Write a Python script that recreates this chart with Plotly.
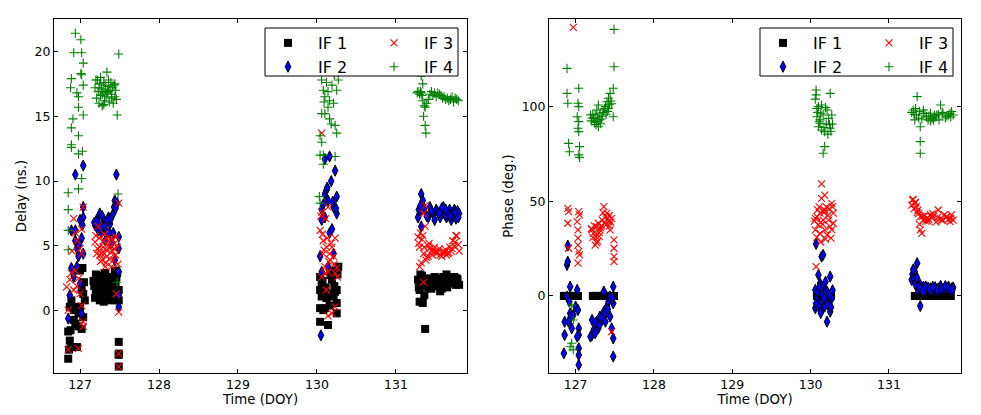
import plotly.graph_objects as go

# ---------------- Delay panel (left) ----------------
d_if1_t = [126.85, 126.85, 126.87, 126.89, 126.96, 126.92, 126.98, 127.00, 127.02, 127.04, 127.06, 127.04, 127.03, 127.00,
           127.02, 126.96, 126.92, 126.89, 126.87, 126.94, 126.98, 127.05, 126.86, 126.88,
           127.23, 127.21, 127.25, 127.30, 127.34, 127.34, 127.38, 127.42, 127.40, 127.30, 127.25, 127.44, 127.46, 127.49,
           127.42, 127.49, 127.18, 127.27, 127.32, 127.36, 127.40, 127.45, 127.49, 127.49, 127.49, 127.49,
           127.17, 127.19, 127.20, 127.22, 127.24, 127.26, 127.28, 127.29, 127.31, 127.33, 127.35, 127.37, 127.39, 127.41,
           127.43, 127.20, 127.26, 127.36, 127.47,
           130.04, 130.06, 130.04, 130.08, 130.06, 130.04, 130.10, 130.14, 130.21, 130.25, 130.25, 130.25, 130.27, 130.19,
           130.14, 130.04, 130.08, 130.21, 130.12, 130.17, 130.23, 130.07, 130.11, 130.16, 130.22, 130.26,
           131.28, 131.30, 131.30, 131.32, 131.33, 131.35, 131.37, 131.39, 131.41, 131.43, 131.45, 131.47, 131.49, 131.51,
           131.54, 131.56, 131.58, 131.60, 131.62, 131.64, 131.66, 131.68, 131.70, 131.72, 131.74, 131.76, 131.78, 131.80,
           131.34, 131.36, 131.29, 131.31, 131.44, 131.52, 131.57, 131.61, 131.65, 131.69, 131.73, 131.77]
d_if1_v = [-3.7, -1.6, -2.3, -2.8, -2.8, -0.7, -0.2, 0.3, -1.4, -0.5, 0.8, 1.3, 3.3, 3.1,
           1.6, 0.3, 0.05, 0.8, 0.3, -1.0, -1.2, 2.2, -3.0, -1.5,
           2.6, 1.3, 0.8, 1.85, 2.6, 1.1, 1.6, 2.4, 0.8, 0.7, 2.0, 3.1, 2.6, 1.6,
           0.95, 0.8, 1.9, 1.5, 2.9, 2.0, 1.2, 2.2, -2.4, -3.3, -4.3, -3.4,
           2.3, 1.0, 2.8, 1.9, 1.2, 2.7, 1.0, 2.3, 2.9, 1.8, 1.3, 2.6, 2.1, 1.6,
           1.9, 1.6, 2.2, 0.9, 2.9,
           2.6, 2.1, 1.6, 1.3, 1.1, 0.2, 0.2, 1.3, 1.1, 0.6, -0.2, 1.6, 3.4, 2.4,
           -1.1, -0.85, 0.05, 3.1, 0.98, 2.75, 1.47, 2.3, 1.8, 0.4, 1.9, 2.8,
           2.4, 1.6, 0.7, 2.2, 2.7, 1.9, -1.4, 2.3, 1.8, 2.5, 1.7, 2.0, 2.6, 1.9,
           2.2, 1.5, 1.7, 2.6, 2.1, 2.8, 2.3, 2.1, 2.5, 2.3, 2.6, 2.0, 2.4, 2.0,
           0.6, 1.2, 1.8, 2.8, 2.2, 2.5, 2.0, 2.4, 1.8, 2.6, 2.2, 2.5]

d_if2_t = [126.94, 127.04, 126.89, 126.87, 126.85, 126.89, 126.94, 126.96, 126.98, 127.00, 127.02, 127.04, 127.04, 126.96,
           126.92, 127.02, 127.00, 126.94, 127.04, 126.91, 126.99, 127.03,
           127.21, 127.23, 127.25, 127.30, 127.34, 127.38, 127.42, 127.44, 127.42, 127.32, 127.40, 127.27, 127.46, 127.49,
           127.49, 127.49, 127.49, 127.49, 127.44, 127.19, 127.36, 127.29, 127.47,
           127.18, 127.22, 127.26, 127.28, 127.31, 127.35, 127.37, 127.39, 127.43, 127.45,
           130.10, 130.16, 130.23, 130.18, 130.10, 130.14, 130.25, 130.06, 130.21, 130.25, 130.10, 130.04, 130.16, 130.14,
           130.05, 130.06, 130.21, 130.06, 130.12, 130.19, 130.08, 130.13, 130.20, 130.24,
           131.32, 131.34, 131.30, 131.28, 131.32, 131.41, 131.47, 131.51, 131.56, 131.60, 131.64, 131.68, 131.70, 131.74,
           131.72, 131.43, 131.49, 131.53, 131.58, 131.62, 131.66, 131.76, 131.78, 131.80, 131.36, 131.39,
           131.29, 131.31, 131.45, 131.55, 131.63, 131.69, 131.75, 131.79]
d_if2_v = [10.5, 11.2, 3.3, 1.2, -0.6, 6.2, 6.2, 4.8, 4.2, 7.0, 5.6, 8.0, 7.2, 3.4,
           2.6, -0.2, 2.1, 5.4, 4.4, 2.9, 5.1, 6.6,
           7.0, 6.2, 7.5, 7.0, 6.0, 6.7, 7.5, 8.5, 6.0, 5.4, 5.2, 6.0, 10.5, 5.7,
           4.8, 3.0, 1.2, 0.3, 3.9, 6.6, 7.2, 6.5, 8.3,
           6.8, 6.9, 6.4, 7.3, 6.5, 7.0, 6.0, 7.1, 8.0, 7.9,
           11.7, 11.9, 10.8, 10.0, 9.0, 8.5, 8.8, 7.8, 8.0, 7.5, 7.2, 4.2, 6.0, 3.4,
           -1.9, 3.0, 4.4, 7.0, 9.3, 6.3, 8.2, 9.5, 8.4, 7.9,
           9.0, 8.5, 7.5, 7.2, 6.5, 7.2, 7.5, 7.8, 7.2, 8.0, 7.2, 7.8, 7.0, 7.8,
           7.4, 8.0, 7.0, 7.6, 7.9, 7.4, 7.5, 7.1, 7.7, 7.5, 7.9, 7.3,
           7.8, 8.1, 7.7, 7.5, 7.8, 7.3, 7.6, 7.2]

d_if3_t = [126.85, 126.98, 126.85, 126.83, 126.87, 126.92, 126.94, 126.98, 126.92, 126.94, 126.96, 127.00, 127.02, 127.04,
           127.02, 127.04, 127.02, 127.00, 127.04, 126.89, 126.96, 126.90,
           127.23, 127.25, 127.27, 127.30, 127.34, 127.38, 127.42, 127.44, 127.46, 127.40, 127.32, 127.21, 127.49, 127.46,
           127.49, 127.49, 127.49, 127.36, 127.19, 127.28, 127.33, 127.37, 127.41, 127.45, 127.48, 127.22, 127.31, 127.39,
           127.20, 127.24, 127.26, 127.29, 127.31, 127.35, 127.39, 127.43, 127.47, 127.25, 127.33, 127.41,
           130.06, 130.06, 130.14, 130.04, 130.08, 130.12, 130.16, 130.21, 130.23, 130.19, 130.10, 130.06, 130.14, 130.23,
           130.12, 130.19, 130.23, 130.08, 130.05, 130.17, 130.25, 130.11, 130.14,
           130.07, 130.09, 130.13, 130.15, 130.18, 130.22, 130.26, 130.10,
           131.28, 131.30, 131.35, 131.32, 131.35, 131.37, 131.35, 131.41, 131.43, 131.47, 131.51, 131.56, 131.62, 131.68,
           131.72, 131.76, 131.77, 131.41, 131.37, 131.29, 131.33, 131.39, 131.45, 131.49, 131.53, 131.58, 131.60, 131.64,
           131.66, 131.70, 131.74, 131.79, 131.80,
           131.31, 131.34, 131.38, 131.42, 131.46, 131.50, 131.55, 131.59, 131.63, 131.67, 131.71, 131.75, 131.30, 131.36]
d_if3_v = [-3.0, -2.9, 0.05, 1.85, 2.4, 1.6, 3.1, 2.5, 7.1, 6.0, 5.4, 4.8, 6.3, 8.0,
           4.4, -1.2, 0.4, 1.3, -0.85, 2.9, 1.9, 4.6,
           6.5, 4.9, 4.4, 5.4, 4.2, 4.9, 3.9, 5.2, 5.7, 3.4, 3.4, 4.4, 8.3, 1.3,
           -0.1, -3.3, -4.3, 5.4, 5.3, 3.9, 4.7, 4.0, 4.6, 4.3, 3.6, 4.8, 5.9, 4.5,
           5.8, 5.6, 3.8, 4.9, 4.4, 5.0, 5.6, 4.8, 4.9, 4.3, 3.7, 5.5,
           13.7, 7.6, 8.0, 6.2, 5.4, 4.9, 4.4, 4.2, 5.6, 4.9, 3.4, 2.6, 3.0, 2.9,
           1.6, -0.2, 0.3, 4.4, 7.3, 3.9, 3.3, 7.1, -0.4,
           5.9, 4.7, 5.6, 3.8, 5.2, 3.6, 2.6, 2.9,
           5.7, 4.9, 4.4, 3.7, 7.5, 8.1, 2.2, 5.0, 4.8, 4.7, 4.4, 4.3, 4.5, 4.9,
           5.4, 5.8, 5.8, 4.2, 6.5, 5.2, 5.5, 4.1, 4.6, 4.9, 4.5, 4.2, 4.6, 4.3,
           4.4, 4.6, 5.0, 5.1, 4.6,
           6.0, 5.8, 3.9, 5.2, 4.3, 4.6, 4.8, 4.4, 4.7, 4.5, 4.8, 5.3, 3.4, 4.9]

d_if4_t = [126.94, 127.01, 126.92, 127.02, 127.04, 127.01, 127.02, 127.04, 126.89, 126.88, 126.96, 126.98, 126.98, 127.04,
           126.91, 126.89, 126.98, 126.89, 126.89, 127.03, 126.98, 127.02, 126.98, 126.85, 126.85, 126.85, 126.85,
           127.19, 127.21, 127.22, 127.23, 127.24, 127.25, 127.26, 127.27, 127.28, 127.29, 127.30, 127.31, 127.32, 127.33,
           127.34, 127.35, 127.36, 127.37, 127.38, 127.39, 127.40, 127.41, 127.42, 127.43, 127.44, 127.45, 127.46, 127.20,
           127.24, 127.28, 127.32, 127.36, 127.40, 127.44, 127.30, 127.49, 127.47, 127.48, 127.47, 127.26, 127.34,
           130.06, 130.08, 130.10, 130.16, 130.14, 130.21, 130.25, 130.27, 130.06, 130.10, 130.16, 130.18, 130.23, 130.25,
           130.04, 130.06, 130.08, 130.04, 130.23, 130.03, 130.04, 130.12, 130.19, 130.14, 130.22, 130.09, 130.08,
           131.27, 131.28, 131.30, 131.31, 131.32, 131.33, 131.34, 131.36, 131.37, 131.39, 131.41, 131.43, 131.45, 131.47,
           131.49, 131.51, 131.53, 131.55, 131.57, 131.59, 131.61, 131.63, 131.65, 131.67, 131.69, 131.71, 131.73, 131.75,
           131.77, 131.79, 131.34, 131.32, 131.35, 131.37, 131.38]
d_if4_v = [21.4, 20.9, 19.9, 19.9, 19.1, 18.3, 18.2, 17.4, 17.9, 17.2, 16.8, 16.5, 15.7, 15.1,
           14.8, 14.1, 13.5, 12.8, 12.6, 12.3, 12.1, 10.2, 9.4, 9.1, 7.8, 6.2, 4.7,
           17.2, 16.4, 17.8, 16.9, 16.0, 17.5, 16.6, 17.1, 15.8, 16.9, 17.6, 16.2, 17.0, 16.5,
           18.4, 16.9, 17.3, 16.1, 17.0, 17.6, 16.7, 17.2, 16.0, 17.4, 16.5, 17.0, 16.3, 17.8,
           17.2, 16.7, 17.4, 17.8, 16.4, 17.5, 15.9, 19.8, 15.1, 9.0, 2.2, 18.0, 16.8,
           17.8, 17.0, 16.5, 16.2, 15.7, 16.0, 17.0, 17.8, 15.2, 15.2, 14.8, 14.4, 14.3, 13.7,
           13.5, 13.0, 12.0, 12.0, 11.9, 8.8, 8.3, 17.6, 17.4, 16.9, 18.2, 16.1, 11.3,
           16.8, 16.9, 16.7, 16.9, 16.8, 16.6, 16.2, 15.8, 15.7, 16.0, 16.3, 16.7, 16.9, 16.6,
           16.8, 16.5, 16.8, 16.7, 16.6, 16.4, 16.5, 16.3, 16.4, 16.2, 16.3, 16.5, 16.1, 16.4,
           16.3, 16.2, 17.5, 18.1, 15.0, 14.3, 13.7]

# ---------------- Phase panel (right) ----------------
p_if1_t = [126.85, 126.87, 126.89, 126.91, 126.93, 126.95, 126.97, 126.99, 127.01, 127.03,
           127.22, 127.24, 127.26, 127.28, 127.30, 127.32, 127.34, 127.36, 127.38, 127.40, 127.42, 127.44, 127.46, 127.48, 127.49,
           130.08, 130.10, 130.12, 130.14, 130.16, 130.18, 130.20, 130.22, 130.24, 130.26,
           131.33, 131.35, 131.37, 131.39, 131.41, 131.43, 131.45, 131.47, 131.49, 131.51, 131.53, 131.55, 131.57,
           131.59, 131.61, 131.63, 131.65, 131.67, 131.69, 131.71, 131.73, 131.75, 131.77, 131.79]
p_if1_v = [0, 0, 0, 0, 0, 0, 0, 0, 0, 0,
           0, 0, 0, 0, 0, 0, 0, 0, 0, 0, 0, 0, 0, 0, 0,
           0, 0, 0, 0, 0, 0, 0, 0, 0, 0,
           0, 0, 0, 0, 0, 0, 0, 0, 0, 0, 0, 0, 0,
           0, 0, 0, 0, 0, 0, 0, 0, 0, 0, 0]

p_if2_t = [126.90, 126.89, 126.90, 126.93, 126.86, 126.86, 126.85, 126.91, 126.89, 126.93, 126.95, 126.97, 127.00, 127.02,
           127.03, 127.04, 127.04, 127.04, 127.04, 127.04, 127.02, 126.94, 126.92,
           127.21, 127.23, 127.25, 127.27, 127.31, 127.29, 127.34, 127.36, 127.38, 127.40, 127.42, 127.36, 127.44, 127.48,
           127.46, 127.48, 127.48, 127.48, 127.21, 127.25, 127.38, 127.44, 127.19, 127.30, 127.33, 127.41, 127.47,
           130.07, 130.14, 130.16, 130.10, 130.12, 130.16, 130.21, 130.25, 130.06, 130.08, 130.12, 130.14, 130.18, 130.23,
           130.27, 130.21, 130.25, 130.10, 130.18, 130.06, 130.09, 130.20, 130.15, 130.28,
           130.07, 130.11, 130.13, 130.17, 130.19, 130.22, 130.24, 130.26,
           131.36, 131.33, 131.31, 131.35, 131.40, 131.44, 131.48, 131.53, 131.57, 131.63, 131.69, 131.76, 131.80, 131.40,
           131.29, 131.37, 131.61, 131.74, 131.66, 131.30, 131.32, 131.34, 131.38, 131.42, 131.46, 131.50, 131.55, 131.59,
           131.71, 131.78, 131.82,
           131.31, 131.34, 131.36, 131.39, 131.43, 131.47, 131.52, 131.56, 131.62, 131.67, 131.72, 131.77, 131.81]
p_if2_v = [26.6, 16.4, 18.1, 4.9, -13.6, -20.6, -30.3, -13.6, -0.4, -9.2, -17.1, -10.0, -5.6, 3.2,
           -7.4, -17.1, -20.6, -27.6, -31.2, -36.4, -21.5, -10.9, -3.0,
           -20.6, -18.0, -19.7, -13.6, -10.9, -17.1, -12.7, -8.3, -9.2, -5.6, -3.0, 2.3, -0.4, 4.9,
           -17.1, -22.4, -32.0, -3.9, -12.7, -14.4, -13.6, -10.9, -21.5, -15.5, -11.5, -7.0, -1.0,
           27.5, 20.8, 21.7, 11.1, 6.7, 4.9, 2.3, 10.2, 3.2, -1.2, -3.9, -7.4, -5.6, -3.0,
           -1.2, -13.6, -8.3, -5.6, 1.4, -6.5, 2.0, -2.0, 0.5, 3.0,
           -4.0, 4.5, -9.0, -1.0, 7.5, -4.5, 0.5, -6.0,
           17.3, 12.9, 10.2, 7.6, 5.8, 4.9, 3.2, 4.0, 3.2, 4.0, 3.2, 4.9, 4.0, -5.3,
           8.5, 3.2, 2.3, 3.5, 5.3, 11.5, 9.0, 7.0, 5.0, 3.8, 2.6, 4.4, 2.8, 4.6,
           4.2, 2.9, 4.5,
           14.0, 6.0, 9.5, 4.5, 2.5, 5.0, 3.5, 4.8, 3.0, 3.6, 5.2, 4.0, 3.2]

p_if3_t = [126.90, 126.91, 126.90, 126.91, 126.97, 127.04, 127.05, 127.02, 127.03, 127.03, 127.03, 127.04, 127.05, 127.03,
           127.21, 127.23, 127.25, 127.27, 127.29, 127.31, 127.36, 127.38, 127.40, 127.42, 127.44, 127.46, 127.49, 127.49,
           127.49, 127.49, 127.46, 127.26, 127.34, 127.22, 127.28, 127.33, 127.39, 127.43, 127.30,
           127.20, 127.24, 127.27, 127.30, 127.32, 127.35, 127.37, 127.41, 127.43, 127.45,
           130.14, 130.18, 130.14, 130.08, 130.12, 130.18, 130.23, 130.27, 130.29, 130.06, 130.12, 130.18, 130.25, 130.16,
           130.10, 130.07, 130.21, 130.29, 130.09, 130.15, 130.20, 130.26, 130.05, 130.13,
           130.06, 130.08, 130.11, 130.13, 130.17, 130.19, 130.22, 130.24, 130.27, 130.28,
           131.30, 131.33, 131.35, 131.37, 131.40, 131.44, 131.40, 131.42, 131.48, 131.57, 131.66, 131.63, 131.74, 131.80,
           131.82, 131.69, 131.53, 131.78, 131.29, 131.31, 131.38, 131.46, 131.50, 131.55, 131.60, 131.71, 131.76,
           131.32, 131.34, 131.36, 131.39, 131.43, 131.47, 131.51, 131.56, 131.62, 131.67, 131.73, 131.79]
p_if3_v = [46.3, 44.5, 38.4, 25.2, 141.9, 44.5, 42.8, 39.3, 34.9, 30.5, 26.9, 23.4, 21.7, 17.3,
           34.9, 33.1, 26.9, 36.6, 38.4, 34.9, 47.2, 41.9, 43.7, 39.3, 34.9, 41.0, 29.6, 25.2,
           20.8, 18.1, -18.8, 31.3, 40.1, 31.0, 29.0, 37.0, 37.5, 42.5, 33.5,
           35.5, 37.0, 28.0, 31.5, 36.0, 44.0, 38.5, 41.0, 37.0, 39.0,
           59.2, 53.3, 51.6, 41.9, 43.7, 45.4, 40.1, 48.9, 43.7, 34.9, 33.1, 34.9, 36.6, 40.1,
           37.5, 15.5, 32.2, 38.4, 45.5, 38.0, 47.0, 30.5, 39.5, 28.5,
           41.0, 31.0, 47.0, 39.0, 44.0, 30.0, 42.5, 46.0, 35.0, 47.0,
           50.7, 48.9, 47.2, 45.4, 41.9, 40.1, 34.9, 33.1, 41.0, 41.9, 41.0, 45.4, 41.9, 42.8,
           40.1, 40.1, 42.8, 39.3, 48.0, 51.0, 43.5, 42.5, 39.5, 41.5, 39.0, 43.0, 40.5,
           46.0, 49.5, 44.0, 38.0, 42.0, 39.5, 40.5, 43.5, 41.5, 40.0, 41.5, 41.0]

p_if4_t = [126.89, 126.89, 126.90, 127.04, 127.03, 127.04, 127.02, 127.04, 127.03, 127.04, 126.91, 126.92, 127.05, 127.04,
           127.05, 126.95, 126.97, 126.95, 126.97, 126.93,
           127.19, 127.23, 127.27, 127.25, 127.31, 127.36, 127.38, 127.40, 127.42, 127.44, 127.42, 127.48, 127.29, 127.27,
           127.49, 127.49, 127.48, 127.29, 127.21, 127.24, 127.33, 127.35, 127.39, 127.46, 127.45,
           127.20, 127.22, 127.26, 127.28, 127.30, 127.32, 127.34, 127.37, 127.41, 127.43,
           130.07, 130.07, 130.25, 130.10, 130.14, 130.21, 130.08, 130.12, 130.16, 130.23, 130.27, 130.10, 130.14, 130.18,
           130.25, 130.28, 130.18, 130.16, 130.12, 130.09, 130.20, 130.06, 130.22,
           130.08, 130.11, 130.13, 130.17, 130.19, 130.24, 130.26,
           131.36, 131.31, 131.35, 131.33, 131.40, 131.40, 131.40, 131.44, 131.48, 131.55, 131.61, 131.66, 131.69, 131.76,
           131.80, 131.82, 131.57, 131.44, 131.29, 131.38, 131.51, 131.59, 131.63, 131.72, 131.78, 131.50, 131.53,
           131.32, 131.34, 131.39, 131.42, 131.46, 131.53, 131.58, 131.64, 131.68, 131.74, 131.79]
p_if4_v = [120.2, 107.0, 101.8, 109.7, 101.8, 100.0, 94.7, 92.1, 88.6, 86.8, 80.6, 76.2, 78.9, 74.5,
           73.2, -4.8, -12.7, -25.0, -28.5, -26.8,
           95.6, 93.8, 92.1, 95.6, 96.5, 98.2, 100.0, 102.6, 104.4, 107.0, 99.1, 94.7, 89.4, 98.2,
           140.8, 121.1, 109.7, 100.9, 94.0, 91.5, 93.5, 97.0, 96.0, 101.5, 103.0,
           92.5, 96.0, 90.5, 94.0, 93.0, 91.0, 95.0, 99.0, 97.5, 101.0,
           108.8, 106.2, 107.0, 100.0, 100.9, 98.2, 94.7, 93.0, 95.6, 93.8, 95.6, 89.4, 87.7, 86.8,
           88.6, 90.8, 78.9, 75.4, 91.2, 97.0, 91.0, 104.0, 85.5,
           99.0, 92.0, 96.5, 89.0, 99.5, 90.5, 87.0,
           105.3, 98.2, 95.6, 93.0, 89.4, 81.5, 75.4, 96.5, 94.7, 93.8, 95.6, 100.9, 96.5, 95.6,
           97.4, 95.6, 92.9, 98.2, 97.0, 94.0, 95.0, 94.5, 96.0, 94.0, 96.5, 93.0, 96.5,
           96.0, 99.0, 97.5, 93.5, 96.5, 92.5, 95.5, 93.0, 97.0, 95.0, 94.5]

series_names = ["IF 1", "IF 2", "IF 3", "IF 4"]
x_ticks = [127, 128, 129, 130, 131]
delay_ticks = [0, 5, 10, 15, 20]
phase_ticks = [0, 50, 100]

FONT = "DejaVu Sans"
OFF = 8                      # page body margin of the browser
W, H = 981 - 2 * OFF, 415 - 2 * OFF


def xp(px):
    return (px - OFF) / W


def yp(py):
    return 1 - (py - OFF) / H


styles = [
    dict(symbol="square", size=8, color="#000000", line=dict(width=0)),
    dict(symbol="diamond-tall", size=8, color="#0000ff", line=dict(width=1, color="#000000")),
    dict(symbol="x-thin", size=7, color="#ff0000", line=dict(width=1.1, color="#ff0000")),
    dict(symbol="cross-thin", size=6.5, color="#008000", line=dict(width=1.1, color="#008000")),
]

fig = go.Figure()
left_data = [(d_if1_t, d_if1_v), (d_if2_t, d_if2_v), (d_if3_t, d_if3_v), (d_if4_t, d_if4_v)]
right_data = [(p_if1_t, p_if1_v), (p_if2_t, p_if2_v), (p_if3_t, p_if3_v), (p_if4_t, p_if4_v)]
left_legends = ["legend", "legend", "legend2", "legend2"]
right_legends = ["legend3", "legend3", "legend4", "legend4"]

for i, (t, v) in enumerate(left_data):
    fig.add_trace(go.Scatter(x=t, y=v, mode="markers", name=series_names[i], marker=styles[i],
                             xaxis="x", yaxis="y", legend=left_legends[i]))
for i, (t, v) in enumerate(right_data):
    fig.add_trace(go.Scatter(x=t, y=v, mode="markers", name=series_names[i], marker=styles[i],
                             xaxis="x2", yaxis="y2", legend=right_legends[i]))

axis_common = dict(showgrid=False, zeroline=False, showline=True, linecolor="black", linewidth=1,
                   mirror="ticks", ticks="inside", ticklen=4, tickcolor="black", tickwidth=1,
                   tickfont=dict(family=FONT, size=12.5, color="black"), automargin=False)

yd = [yp(373), yp(19)]

fig.update_layout(
    width=W, height=H, margin=dict(l=0, r=0, t=0, b=0),
    paper_bgcolor="white", plot_bgcolor="white",
    font=dict(family=FONT, color="black"),
    xaxis=dict(domain=[xp(54), xp(467)], range=[126.67, 131.9], tickvals=x_ticks, anchor="y",
               title=dict(text="Time (DOY)", font=dict(size=13.3), standoff=1), **axis_common),
    yaxis=dict(domain=yd, range=[-4.8, 22.5], tickvals=delay_ticks, anchor="x",
               title=dict(text="Delay (ns.)", font=dict(size=13.3), standoff=4), **axis_common),
    xaxis2=dict(domain=[xp(549), xp(961)], range=[126.66, 131.92], tickvals=x_ticks, anchor="y2",
                title=dict(text="Time (DOY)", font=dict(size=13.3), standoff=1), **axis_common),
    yaxis2=dict(domain=yd, range=[-40.7, 146.3], tickvals=phase_ticks, anchor="x2",
                title=dict(text="Phase (deg.)", font=dict(size=13.3), standoff=4), **axis_common),
    showlegend=True,
)

leg_common = dict(bgcolor="rgba(0,0,0,0)", borderwidth=0, font=dict(family=FONT, size=16, color="black"),
                  itemwidth=50, yanchor="top", xanchor="left", orientation="v")
ly = yp(26)
fig.update_layout(
    legend=dict(x=xp(258), y=ly, **leg_common),
    legend2=dict(x=xp(364), y=ly, **leg_common),
    legend3=dict(x=xp(753), y=ly, **leg_common),
    legend4=dict(x=xp(859), y=ly, **leg_common),
)

# legend frames
for x0, x1 in [(265, 458), (760, 953)]:
    fig.add_shape(type="rect", xref="paper", yref="paper", x0=xp(x0), x1=xp(x1),
                  y0=yp(76), y1=yp(28), line=dict(color="black", width=1),
                  fillcolor="white", layer="above")

fig.write_html("out.html")
